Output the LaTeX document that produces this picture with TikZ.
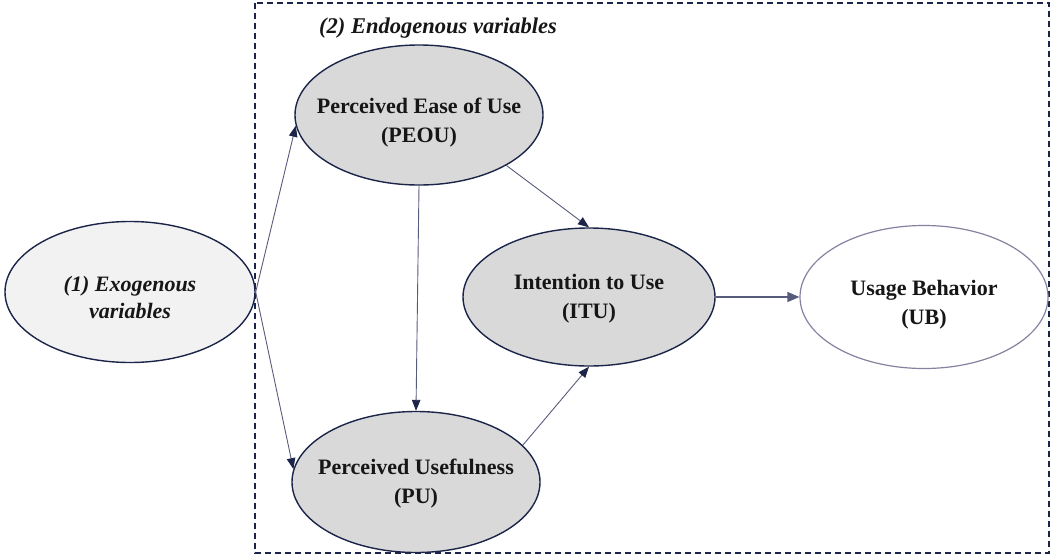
\documentclass[tikz,border=0pt]{standalone}
\usepackage{fontspec}
\setmainfont{Liberation Serif}
\usetikzlibrary{shapes.geometric,arrows.meta}
\definecolor{navy}{HTML}{1C2549}
\definecolor{linec}{HTML}{585C7C}
\definecolor{ubline}{HTML}{8383A0}
\definecolor{gfill}{HTML}{D9D9D9}
\definecolor{lfill}{HTML}{F2F2F2}
\definecolor{txt}{HTML}{161616}
\newcommand\twoline[3][0pt]{\smash{\makebox[0pt]{\raisebox{#1}{\begin{tabular}{@{}c@{}}#2\\#3\end{tabular}}}}}
\begin{document}
\begin{tikzpicture}[x=1pt,y=-1pt,
  ell/.style={ellipse,draw=navy,line width=1.4pt,fill=gfill,inner sep=0pt,
    font=\fontsize{22}{29}\selectfont\bfseries,text=txt},
  conn/.style={draw=linec,line width=0.9pt,-{Triangle[length=11pt,width=8.5pt,fill=navy,color=navy]}}]
\useasboundingbox (0,0) rectangle (1052,557);
\draw[navy,line width=1.4pt,dash pattern=on 6pt off 4pt] (255,3) rectangle (1049,553);
\node[font=\fontsize{22.5}{26}\selectfont\bfseries\itshape,text=txt] (title) at (438,28) {(2) Endogenous variables};
\node[ell,fill=lfill,minimum width=250pt,minimum height=141pt,font=\fontsize{22}{27}\selectfont\bfseries\itshape] (exo) at (130,292) {\twoline[-13pt]{(1) Exogenous}{variables}};
\node[ell,minimum width=248pt,minimum height=140pt] (peou) at (419,115) {\twoline[-12pt]{Perceived Ease of Use}{(PEOU)}};
\node[ell,minimum width=252pt,minimum height=138pt] (itu) at (589,297) {\twoline[-6pt]{Intention to Use}{(ITU)}};
\node[ell,minimum width=248pt,minimum height=141pt] (pu) at (416,482) {\twoline[-6pt]{Perceived Usefulness}{(PU)}};
\node[ell,fill=white,draw=ubline,line width=1.2pt,minimum width=248pt,minimum height=143pt] (ub) at (924,297) {\twoline[-12pt]{Usage Behavior}{(UB)}};
\draw[conn] (exo.east) -- (peou.185);
\draw[conn] (exo.east) -- (pu.174);
\draw[conn] (peou.south) -- (pu.north);
\draw[conn] (peou.330) -- (itu.north);
\draw[conn] (pu.19) -- (itu.south);
\draw[draw=linec,line width=1.2pt,-{Triangle[length=12pt,width=10pt,fill=linec,color=linec]}] (itu.east) -- (ub.west);
\end{tikzpicture}
\end{document}
